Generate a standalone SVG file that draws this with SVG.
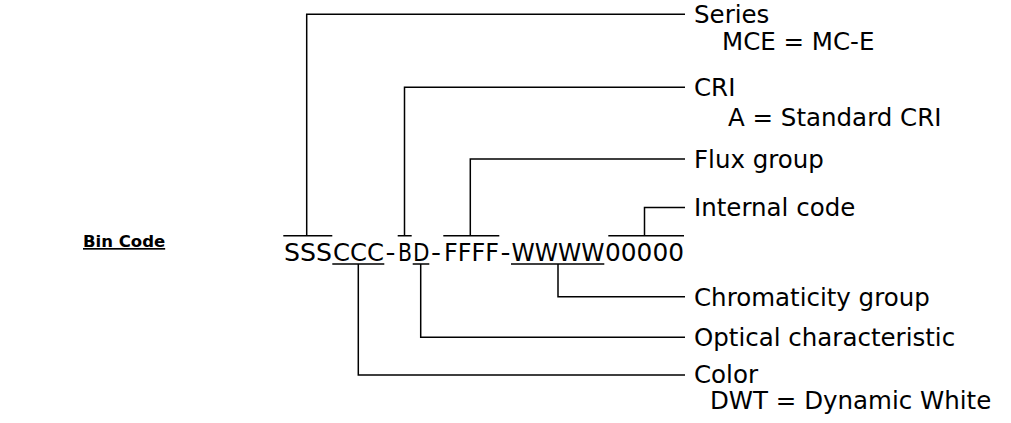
<svg xmlns="http://www.w3.org/2000/svg" width="1011" height="423" viewBox="0 0 1011 423">
<style>
text{font-family:"DejaVu Sans",Verdana,sans-serif;fill:#000}
.lbl{font-size:24.5px}
.code{font-size:24.5px}
.title{font-size:16.5px;font-weight:bold;text-decoration:underline}
.ln{stroke:#000;stroke-width:1.5;fill:none}
</style>
<rect width="1011" height="423" fill="#fff"/>
<g id="title"><text class="title" x="83" y="247">Bin Code</text></g>
<g id="code">
<text class="code" y="260.5"><tspan x="284" textLength="48" lengthAdjust="spacingAndGlyphs">SSS</tspan><tspan x="333" textLength="51" lengthAdjust="spacingAndGlyphs">CCC</tspan><tspan x="385.5" textLength="10" lengthAdjust="spacingAndGlyphs">-</tspan><tspan x="398" textLength="14" lengthAdjust="spacingAndGlyphs">B</tspan><tspan x="413" textLength="16.5" lengthAdjust="spacingAndGlyphs">D</tspan><tspan x="431" textLength="10" lengthAdjust="spacingAndGlyphs">-</tspan><tspan x="444" textLength="55" lengthAdjust="spacingAndGlyphs">FFFF</tspan><tspan x="500.5" textLength="10" lengthAdjust="spacingAndGlyphs">-</tspan><tspan x="511.5" textLength="93" lengthAdjust="spacingAndGlyphs">WWWW</tspan><tspan x="605" textLength="79" lengthAdjust="spacingAndGlyphs">00000</tspan></text>
</g>
<g id="connectors">
<path class="ln" d="M283.3 235.7H332.3M306.7 235.7V14.3H685"/>
<path class="ln" d="M397.7 235.7H411.7M404.5 235.7V87.3H685"/>
<path class="ln" d="M443.3 235.7H499.3M470.3 235.7V159H685"/>
<path class="ln" d="M608.3 235.7H684M644.5 235.7V207.5H685"/>
<path class="ln" d="M332.3 264H384.3M358.3 264V375H685"/>
<path class="ln" d="M412.7 264H429.3M420.7 264V337.3H685"/>
<path class="ln" d="M511 264H604.3M558 264V296.7H685"/>
</g>
<g id="series"><text class="lbl" x="694" y="23">Series</text><text class="lbl" x="722" y="49.5">MCE = MC-E</text></g>
<g id="cri"><text class="lbl" x="694" y="95.5">CRI</text><text class="lbl" x="728" y="125.5">A = Standard CRI</text></g>
<g id="flux"><text class="lbl" x="694" y="167.5">Flux group</text></g>
<g id="internal"><text class="lbl" x="694" y="215.5">Internal code</text></g>
<g id="chromaticity"><text class="lbl" x="694" y="305.5">Chromaticity group</text></g>
<g id="optical"><text class="lbl" x="694" y="345.5">Optical characteristic</text></g>
<g id="color"><text class="lbl" x="694" y="382.5">Color</text><text class="lbl" x="710" y="408.5">DWT = Dynamic White</text></g>
</svg>
